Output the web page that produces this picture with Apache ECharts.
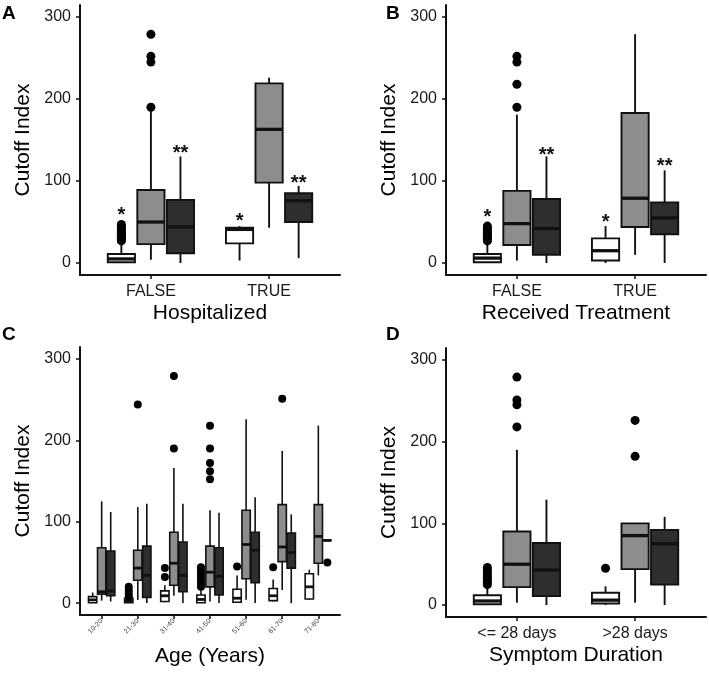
<!DOCTYPE html>
<html>
<head>
<meta charset="utf-8">
<script src="https://cdn.jsdelivr.net/npm/echarts@6/dist/echarts.min.js"></script>
<style>
  html, body { margin: 0; padding: 0; background: #fff; }
  #chart { width: 709px; height: 673px; }
</style>
</head>
<body>
<div id="chart"></div>
<script>
// box = [low whisker, q1, median, q3, high whisker]
// outliers / stars = [category index, group (0 white, 1 grey, 2 dark), value]

// A - Hospitalized
const hospCats = ['FALSE', 'TRUE'];
const hospWhite = [[0, 1, 5, 11, 25], [3, 24, 41, 43, 45]];
const hospGrey = [[4, 23, 50, 89, 188], [43, 98, 163, 219, 226]];
const hospDark = [[0, 12, 44, 77, 130], [6, 50, 76, 85, 94]];
const hospOut = [
  [0, 0, 27], [0, 0, 29], [0, 0, 31], [0, 0, 33], [0, 0, 35], [0, 0, 37],
  [0, 0, 39], [0, 0, 41], [0, 0, 43], [0, 0, 45], [0, 0, 47],
  [0, 1, 190], [0, 1, 245], [0, 1, 252], [0, 1, 279]
];
const hospStars = [[0, 0, 58, '*'], [0, 2, 133, '**'], [1, 0, 51, '*'], [1, 2, 97, '**']];

// B - Received Treatment
const treatCats = ['FALSE', 'TRUE'];
const treatWhite = [[0, 1, 6, 11, 25], [0, 3, 15, 30, 45]];
const treatGrey = [[3, 22, 48, 88, 181], [10, 44, 79, 183, 279]];
const treatDark = [[0, 10, 42, 78, 130], [0, 35, 55, 74, 113]];
const treatOut = [
  [0, 0, 27], [0, 0, 29], [0, 0, 31], [0, 0, 33], [0, 0, 35], [0, 0, 37],
  [0, 0, 39], [0, 0, 41], [0, 0, 43], [0, 0, 45],
  [0, 1, 190], [0, 1, 218], [0, 1, 245], [0, 1, 252]
];
const treatStars = [[0, 0, 56, '*'], [0, 2, 131, '**'], [1, 0, 50, '*'], [1, 2, 118, '**']];

// C - Age
const ageCats = ['10-20', '21-30', '31-40', '41-50', '51-60', '61-70', '71-80'];
const ageWhite = [[0, 0.5, 4, 8, 13], [0, 0.5, 3, 6, 7], [1, 2, 9, 15, 22], [0, 0.5, 4.5, 10, 16],
  [1, 1, 6, 17, 34], [2, 3, 9, 18, 29], [4, 5, 20, 36, 41]];
const ageGrey = [[3, 11, 14, 68, 125], [4, 28, 43, 65, 118], [9, 22, 49, 87, 166], [2, 20, 38, 70, 114],
  [4, 30, 72, 114, 226], [16, 51, 69, 121, 187], [34, 49, 82, 121, 218]];
const ageDark = [[2, 9, 15, 64, 112], [0, 7, 34, 70, 122], [0, 14, 34, 75, 122], [0, 10, 33, 68, 111],
  [0, 25, 65, 87, 130], [0, 43, 62, 86, 109], [77, 77, 77, 77, 77]];
const ageOut = [
  [1, 0, 8], [1, 0, 12], [1, 0, 16], [1, 0, 20],
  [2, 0, 32], [2, 0, 43],
  [3, 0, 20], [3, 0, 24], [3, 0, 28], [3, 0, 32], [3, 0, 36], [3, 0, 40], [3, 0, 44],
  [4, 0, 45], [5, 0, 44],
  [1, 1, 244], [2, 1, 190], [2, 1, 279],
  [3, 1, 152], [3, 1, 162], [3, 1, 172], [3, 1, 190], [3, 1, 218],
  [5, 1, 251], [6, 2, 50]
];

// D - Symptom Duration
const durCats = ['<= 28 days', '>28 days'];
const durWhite = [[0, 1, 5, 12, 22], [0, 2, 6, 15, 23]];
const durGrey = [[3, 22, 50, 90, 190], [3, 44, 85, 100, 100]];
const durDark = [[0, 11, 43, 76, 129], [0, 25, 75, 92, 108]];
const durOut = [
  [0, 0, 25], [0, 0, 28], [0, 0, 31], [0, 0, 34], [0, 0, 37], [0, 0, 40], [0, 0, 43], [0, 0, 46],
  [0, 1, 218], [0, 1, 245], [0, 1, 251], [0, 1, 279],
  [1, 0, 45], [1, 1, 182], [1, 1, 226]
];

const yTicks = [0, 100, 200, 300];
const fills = ['#ffffff', '#8d8d8d', '#2e2e2e'];
const offs = [-0.25, 0, 0.25];
const boxW = 0.23;
const FONT = 'Liberation Sans, Arial, Helvetica, sans-serif';

const chart = echarts.init(document.getElementById('chart'));

function boxSeries(gi, boxes, group, lw, mw) {
  return {
    type: 'custom',
    xAxisIndex: gi, yAxisIndex: gi,
    data: boxes.map((b, i) => [i].concat(b)),
    encode: { x: 0, y: [1, 2, 3, 4, 5] },
    silent: true,
    renderItem: function (params, api) {
      const c = api.value(0) + offs[group];
      const half = api.size([boxW, 0])[0] / 2;
      const lo = api.coord([c, api.value(1)]);
      const q1 = api.coord([c, api.value(2)]);
      const md = api.coord([c, api.value(3)]);
      const q3 = api.coord([c, api.value(4)]);
      const hi = api.coord([c, api.value(5)]);
      const ls = { stroke: '#111', lineWidth: lw };
      return {
        type: 'group',
        children: [
          { type: 'line', shape: { x1: lo[0], y1: lo[1], x2: q1[0], y2: q1[1] }, style: ls },
          { type: 'line', shape: { x1: q3[0], y1: q3[1], x2: hi[0], y2: hi[1] }, style: ls },
          { type: 'rect', shape: { x: q3[0] - half, y: q3[1], width: half * 2, height: q1[1] - q3[1] },
            style: { fill: fills[group], stroke: '#111', lineWidth: lw } },
          { type: 'line', shape: { x1: md[0] - half, y1: md[1], x2: md[0] + half, y2: md[1] },
            style: { stroke: '#111', lineWidth: mw } }
        ]
      };
    }
  };
}

function panel(gi, cats, white, grey, dark, outs, stars, xName, pos, small) {
  const lw = small ? 1.6 : 1.9;
  const mw = small ? 2.8 : 3.3;
  const grid = Object.assign({ containLabel: false }, pos);
  const xAxis = {
    gridIndex: gi, type: 'value', min: -0.6, max: cats.length - 1 + 0.6,
    name: xName, nameLocation: 'middle', nameGap: small ? 31 : 28,
    nameTextStyle: { fontSize: 21, color: '#000', fontFamily: FONT },
    axisLine: { onZero: false, lineStyle: { color: '#111', width: 2 } },
    axisTick: { customValues: cats.map((c, i) => i), length: 4, lineStyle: { color: '#111', width: 1.5 } },
    axisLabel: {
      customValues: cats.map((c, i) => i),
      formatter: v => cats[Math.round(v)],
      fontSize: small ? 7 : 16, color: small ? '#444' : '#1a1a1a', fontFamily: FONT,
      rotate: small ? 45 : 0, margin: small ? 5 : 9
    },
    splitLine: { show: false }
  };
  const yAxis = {
    gridIndex: gi, type: 'value', min: -14.6, max: 314.6,
    name: 'Cutoff Index', nameLocation: 'middle', nameGap: 46,
    nameTextStyle: { fontSize: 21, color: '#000', fontFamily: FONT },
    axisLine: { show: true, onZero: false, lineStyle: { color: '#111', width: 2 } },
    axisTick: { show: true, customValues: yTicks, length: 4, lineStyle: { color: '#111', width: 1.5 } },
    axisLabel: { customValues: yTicks, fontSize: 16, color: '#1a1a1a', fontFamily: FONT, margin: 9 },
    splitLine: { show: false }
  };
  const series = [
    boxSeries(gi, white, 0, lw, mw),
    boxSeries(gi, grey, 1, lw, mw),
    boxSeries(gi, dark, 2, lw, mw),
    {
      type: 'scatter', xAxisIndex: gi, yAxisIndex: gi, silent: true,
      symbolSize: small ? 8 : 9,
      itemStyle: { color: '#000', opacity: 1 },
      data: outs.map(o => [o[0] + offs[o[1]], o[2]])
    }
  ];
  if (stars) {
    series.push({
      type: 'custom', xAxisIndex: gi, yAxisIndex: gi, silent: true,
      data: stars.map(s => [s[0] + offs[s[1]], s[2]]),
      renderItem: function (params, api) {
        const p = api.coord([api.value(0), api.value(1)]);
        return {
          type: 'text', x: p[0], y: p[1],
          style: { text: stars[params.dataIndex][3], fontSize: 20, fontWeight: 'bold', fontFamily: FONT,
            fill: '#111', align: 'center', verticalAlign: 'middle' }
        };
      }
    });
  }
  return { grid, xAxis, yAxis, series };
}

const panels = [
  panel(0, hospCats, hospWhite, hospGrey, hospDark, hospOut, hospStars, 'Hospitalized',
    { left: 80, top: 5, width: 260, height: 270 }, false),
  panel(1, treatCats, treatWhite, treatGrey, treatDark, treatOut, treatStars, 'Received Treatment',
    { left: 446, top: 5, width: 260, height: 270 }, false),
  panel(2, ageCats, ageWhite, ageGrey, ageDark, ageOut, null, 'Age (Years)',
    { left: 80, top: 347, width: 260, height: 268 }, true),
  panel(3, durCats, durWhite, durGrey, durDark, durOut, null, 'Symptom Duration',
    { left: 446, top: 348, width: 260, height: 269 }, false)
];

const letter = (txt, x, y) => ({
  type: 'text', left: x, top: y,
  style: { text: txt, fontSize: 19, fontWeight: 'bold', fontFamily: FONT, fill: '#000' }
});

chart.setOption({
  animation: false,
  backgroundColor: '#fff',
  textStyle: { fontFamily: FONT },
  grid: panels.map(p => p.grid),
  xAxis: panels.map(p => p.xAxis),
  yAxis: panels.map(p => p.yAxis),
  series: [].concat(...panels.map(p => p.series)),
  graphic: [letter('A', 2, 4), letter('B', 386, 4), letter('C', 2, 325), letter('D', 386, 325)]
});
</script>
</body>
</html>
